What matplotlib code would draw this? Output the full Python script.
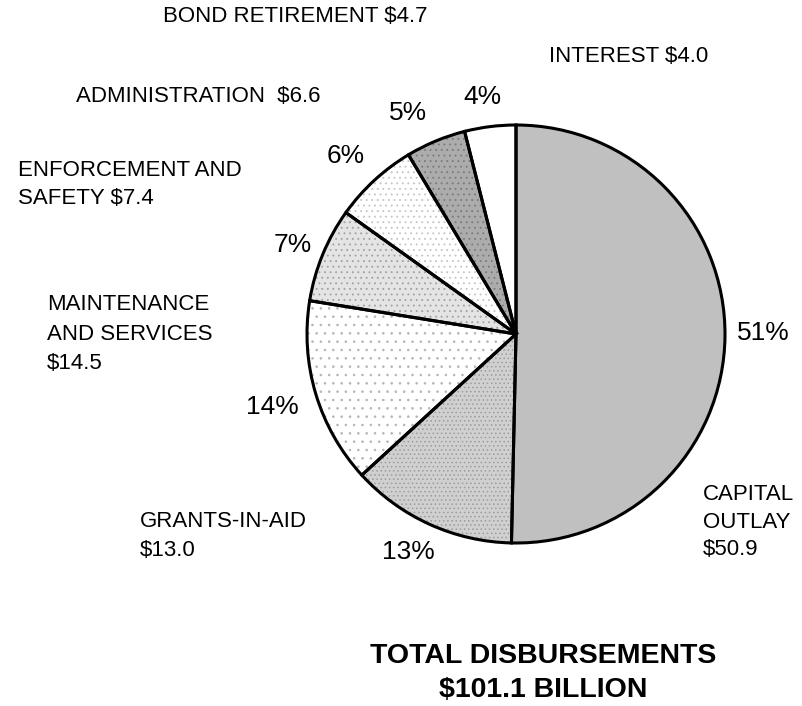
import matplotlib
matplotlib.use("Agg")
import matplotlib.pyplot as plt

# ---- data ----
categories = ["CAPITAL OUTLAY", "GRANTS-IN-AID", "MAINTENANCE AND SERVICES",
              "ENFORCEMENT AND SAFETY", "ADMINISTRATION", "BOND RETIREMENT", "INTEREST"]
values = [50.9, 13.0, 14.5, 7.4, 6.6, 4.7, 4.0]
pct_labels = ["51%", "13%", "14%", "7%", "6%", "5%", "4%"]
cat_labels = ["CAPITAL\nOUTLAY\n$50.9", "GRANTS-IN-AID\n$13.0", "MAINTENANCE\nAND SERVICES\n$14.5",
              "ENFORCEMENT AND\nSAFETY $7.4", "ADMINISTRATION  $6.6", "BOND RETIREMENT $4.7",
              "INTEREST $4.0"]
title_text = "TOTAL DISBURSEMENTS\n$101.1 BILLION"

# ---- style ----
face_colors = ["#c0c0c0", "#d0d0d0", "#ffffff", "#e4e4e4", "#ffffff", "#acacac", "#ffffff"]
hatch_colors = ["#c0c0c0", "#9c9c9c", "#b4b4b4", "#a0a0a0", "#c4c4c4", "#7a7a7a", "#ffffff"]
hatches = [None, "....", "..", "...", "...", "...", None]

W, H = 802, 706
plt.rcParams['font.family'] = ['Liberation Sans', 'DejaVu Sans']
plt.rcParams['hatch.linewidth'] = 0.6

fig = plt.figure(figsize=(W / 100, H / 100), dpi=100)
ax = fig.add_axes([0, 0, 1, 1])

def Y(py):
    return H - py

center = (516, Y(334))
radius = 209

# base fill + texture
wedges, _ = ax.pie(values, startangle=90, counterclock=False, center=center, radius=radius,
                   colors=face_colors, wedgeprops=dict(linewidth=0), frame=True)
for w, h, hc in zip(wedges, hatches, hatch_colors):
    if h:
        w.set_hatch(h)
        w.set_edgecolor(hc)
        w.set_linewidth(0)
# outlines
ax.pie(values, startangle=90, counterclock=False, center=center, radius=radius,
       colors=["none"] * len(values),
       wedgeprops=dict(edgecolor="black", linewidth=2.2, fill=False), frame=True)
ax.set_xlim(0, W)
ax.set_ylim(0, H)
ax.set_aspect('equal')
ax.axis('off')

# category labels (left x, center y in pixels)
cat_pos = [(703, 522), (140, 536), (47, 334), (18, 184.5), (76, 97), (163, 17), (549, 57)]
cat_ls = [1.42, 1.52, 1.56, 1.47, 1.2, 1.2, 1.2]
for lab, (px, py), ls in zip(cat_labels, cat_pos, cat_ls):
    ax.text(px, Y(py), lab, ha='left', va='center', fontsize=16, linespacing=ls,
            multialignment='left')

# percent labels (center x, center y in pixels)
pct_pos = [(763, 333), (408, 552), (272, 407), (293, 245), (346, 156), (408, 113), (482, 97)]
for lab, (px, py) in zip(pct_labels, pct_pos):
    ax.text(px, Y(py), lab, ha='center', va='center', fontsize=19)

ax.text(543, Y(673), title_text, ha='center', va='center', fontsize=20.5,
        fontweight='bold', linespacing=1.4)

fig.savefig("out.png", dpi=100)
